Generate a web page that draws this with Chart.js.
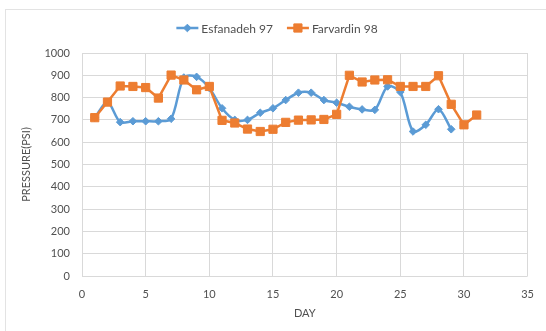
<!DOCTYPE html>
<html>
<head>
<meta charset="utf-8">
<script src="https://cdn.jsdelivr.net/npm/chart.js@4.4.1/dist/chart.umd.min.js"></script>
<style>
  html, body { margin: 0; padding: 0; background: #fff; }
  #wrap { position: relative; width: 546px; height: 331px; overflow: hidden; }
  #frame { position: absolute; left: 5px; top: 9px; width: 600px; height: 400px; border: 1px solid #e3e3e3; }
  canvas { position: absolute; left: 0; top: 0; }
</style>
</head>
<body>
<div id="wrap">
  <div id="frame"></div>
  <canvas id="chart" width="546" height="331"></canvas>
</div>
<script>
const seriesNames = ["Esfanadeh 97", "Farvardin 98"];
const esfanadehDays = [1, 2, 3, 4, 5, 6, 7, 8, 9, 10, 11, 12, 13, 14, 15, 16, 17, 18, 19, 20, 21, 22, 23, 24, 25, 26, 27, 28, 29];
const esfanadehPsi = [710, 780, 690, 694, 694, 694, 705, 890, 893, 843, 752, 700, 700, 732, 752, 789, 822, 822, 789, 777, 759, 747, 745, 850, 825, 648, 678, 748, 658];
const farvardinDays = [1, 2, 3, 4, 5, 6, 7, 8, 9, 10, 11, 12, 13, 14, 15, 16, 17, 18, 19, 20, 21, 22, 23, 24, 25, 26, 27, 28, 29, 30, 31];
const farvardinPsi = [710, 780, 852, 850, 845, 798, 901, 879, 835, 850, 698, 686, 659, 648, 658, 689, 699, 700, 702, 725, 900, 870, 879, 880, 850, 850, 850, 898, 770, 678, 722];
const xTicks = [0, 5, 10, 15, 20, 25, 30, 35];
const yTicks = [0, 100, 200, 300, 400, 500, 600, 700, 800, 900, 1000];

const BLUE = "#5b9bd5";
const ORANGE = "#ed7d31";
const TEXT = "#505050";
const FONT = "Lato, 'Open Sans', sans-serif";

function toPoints(days, vals) {
  return days.map((d, i) => ({ x: d, y: vals[i] }));
}

// legend drawn by hand so it shows line + marker like Excel
const excelLegend = {
  id: "excelLegend",
  afterDraw(chart) {
    const ctx = chart.ctx;
    ctx.save();
    ctx.font = "12px " + FONT;
    ctx.textBaseline = "middle";
    const lineLen = 22, gap = 3, between = 14;
    const items = chart.data.datasets.slice().sort((a, b) => a.legendIndex - b.legendIndex);
    let total = 0;
    items.forEach((ds, i) => {
      total += lineLen + gap + ctx.measureText(ds.label).width + (i ? between : 0);
    });
    let x = chart.width / 2 + 4 - total / 2;
    const y = 28;
    items.forEach((ds, i) => {
      if (i) x += between;
      ctx.strokeStyle = ds.borderColor;
      ctx.fillStyle = ds.borderColor;
      ctx.lineWidth = 2.5;
      ctx.beginPath();
      ctx.moveTo(x, y);
      ctx.lineTo(x + lineLen, y);
      ctx.stroke();
      ctx.lineWidth = 1;
      Chart.helpers.drawPoint(ctx, {
        pointStyle: ds.pointStyle,
        radius: ds.pointRadius,
        borderWidth: 1
      }, x + lineLen / 2, y);
      ctx.fillStyle = TEXT;
      ctx.fillText(ds.label, x + lineLen + gap, y + 1);
      x += lineLen + gap + ctx.measureText(ds.label).width;
    });
    ctx.restore();
  }
};

new Chart(document.getElementById("chart"), {
  type: "line",
  data: {
    datasets: [
      {
        label: seriesNames[0],
        legendIndex: 0,
        order: 1,
        data: toPoints(esfanadehDays, esfanadehPsi),
        borderColor: BLUE,
        backgroundColor: BLUE,
        borderWidth: 2.5,
        pointStyle: "rectRot",
        pointRadius: 3.8,
        pointBorderWidth: 1,
        tension: 0.3
      },
      {
        label: seriesNames[1],
        legendIndex: 1,
        order: 0,
        data: toPoints(farvardinDays, farvardinPsi),
        borderColor: ORANGE,
        backgroundColor: ORANGE,
        borderWidth: 2.5,
        pointStyle: "rect",
        pointRadius: 5.8,
        pointBorderWidth: 1,
        tension: 0
      }
    ]
  },
  options: {
    responsive: false,
    animation: false,
    layout: { padding: { top: 53, right: 16, bottom: 11, left: 14 } },
    plugins: {
      legend: { display: false },
      tooltip: { enabled: false }
    },
    scales: {
      x: {
        type: "linear",
        min: 0,
        max: 35,
        afterBuildTicks(axis) {
          axis.ticks = xTicks.map(v => ({ value: v }));
        },
        afterFit(axis) { axis.height = 44; },
        grid: { color: "#d9d9d9", drawTicks: false },
        border: { display: false },
        ticks: {
          padding: 12, color: TEXT, font: { family: FONT, size: 11 },
          callback: v => String(v)
        },
        title: {
          display: true,
          text: "DAY",
          color: TEXT,
          font: { family: FONT, size: 11 },
          padding: { top: 0, bottom: 0 }
        }
      },
      y: {
        min: 0,
        max: 1000,
        afterBuildTicks(axis) {
          axis.ticks = yTicks.map(v => ({ value: v }));
        },
        afterFit(axis) { axis.width = 68; },
        grid: { color: "#d9d9d9", drawTicks: false },
        border: { display: false },
        ticks: {
          padding: 12, color: TEXT, font: { family: FONT, size: 11 },
          callback: v => String(v)
        },
        title: {
          display: true,
          text: "PRESSURE(PSI)",
          color: TEXT,
          font: { family: FONT, size: 11 },
          padding: { top: 6, bottom: 4 }
        }
      }
    }
  },
  plugins: [excelLegend]
});
</script>
</body>
</html>
